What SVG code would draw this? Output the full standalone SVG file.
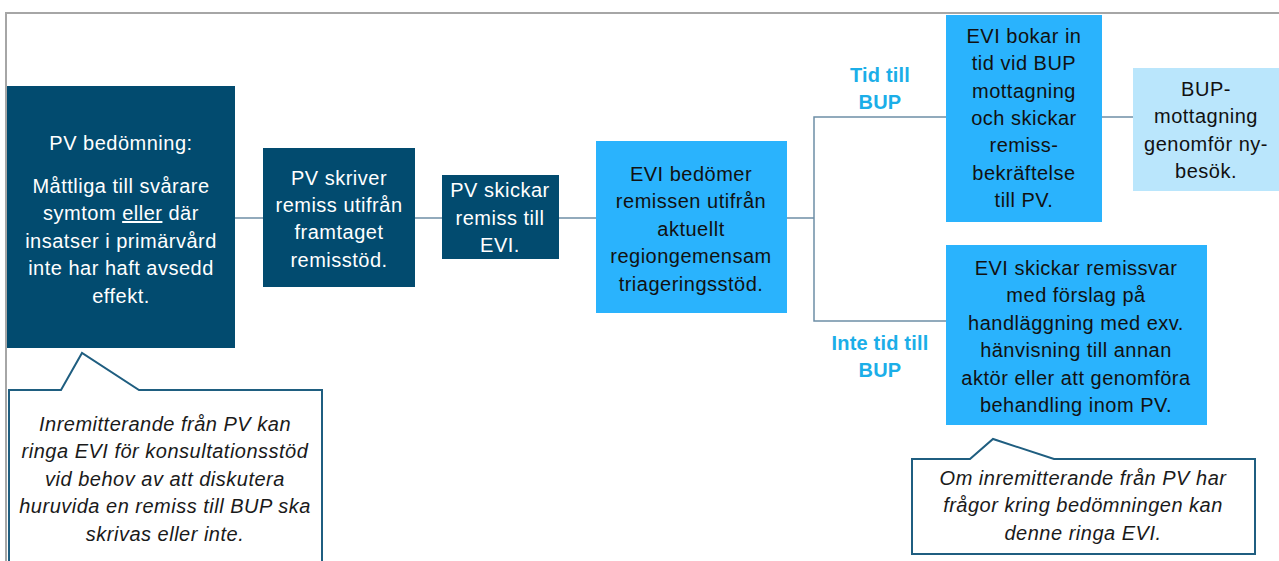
<svg xmlns="http://www.w3.org/2000/svg" width="1279" height="561" viewBox="0 0 1279 561">
<style>
.t{font-family:"Liberation Sans",Arial,sans-serif;font-size:20px;letter-spacing:0.5px;text-anchor:middle}
.w{fill:#ffffff}
.k{fill:#111111}
.i{font-style:italic;fill:#1a1a1a}
.lbl{fill:#1BAEE8;font-weight:bold;letter-spacing:0.2px}
.dark{fill:#024B6F}
.lb{fill:#2AB3FD}
.pale{fill:#BAE6FC}
.con{stroke:#6E8EA6;stroke-width:1.5;fill:none}
.call{fill:#ffffff;stroke:#1F5E80;stroke-width:2}
</style>
<rect width="1279" height="561" fill="#ffffff"/>
<path d="M6,561 V13 H1279" fill="none" stroke="#A6A6A6" stroke-width="2"/>
<g id="connectors">
<line class="con" x1="235" y1="218" x2="263" y2="218"/>
<line class="con" x1="415" y1="218" x2="442" y2="218"/>
<line class="con" x1="559" y1="218" x2="596" y2="218"/>
<line class="con" x1="787" y1="218" x2="814" y2="218"/>
<path class="con" d="M946,117 H814 V321 H946"/>
<line class="con" x1="1102" y1="117" x2="1133" y2="117"/>
</g>
<g id="label-tid">
<text class="t lbl" x="880" y="82">Tid till</text>
<text class="t lbl" x="880" y="109">BUP</text>
</g>
<g id="label-inte">
<text class="t lbl" x="880" y="350">Inte tid till</text>
<text class="t lbl" x="880" y="377">BUP</text>
</g>
<g id="n1">
<rect class="dark" x="7" y="86" width="228" height="262"/>
<text class="t w" x="121" y="150">PV bedömning:</text>
<text class="t w" x="121" y="193">Måttliga till svårare</text>
<text class="t w" x="121" y="220">symtom <tspan text-decoration="underline">eller</tspan> där</text>
<text class="t w" x="121" y="248">insatser i primärvård</text>
<text class="t w" x="121" y="275">inte har haft avsedd</text>
<text class="t w" x="121" y="303">effekt.</text>
</g>
<g id="n2">
<rect class="dark" x="263" y="148" width="152" height="139"/>
<text class="t w" x="339" y="185">PV skriver</text>
<text class="t w" x="339" y="212">remiss utifrån</text>
<text class="t w" x="339" y="239">framtaget</text>
<text class="t w" x="339" y="267">remisstöd.</text>
</g>
<g id="n3">
<rect class="dark" x="442" y="175" width="117" height="84"/>
<text class="t w" x="500" y="197">PV skickar</text>
<text class="t w" x="500" y="225">remiss till</text>
<text class="t w" x="500" y="252">EVI.</text>
</g>
<g id="n4">
<rect class="lb" x="596" y="141" width="191" height="172"/>
<text class="t k" x="691" y="181">EVI bedömer</text>
<text class="t k" x="691" y="208">remissen utifrån</text>
<text class="t k" x="691" y="236">aktuellt</text>
<text class="t k" x="691" y="263">regiongemensam</text>
<text class="t k" x="691" y="291">triageringsstöd.</text>
</g>
<g id="n5">
<rect class="lb" x="946" y="15" width="156" height="207"/>
<text class="t k" x="1024" y="43">EVI bokar in</text>
<text class="t k" x="1024" y="70">tid vid BUP</text>
<text class="t k" x="1024" y="98">mottagning</text>
<text class="t k" x="1024" y="125">och skickar</text>
<text class="t k" x="1024" y="152">remiss-</text>
<text class="t k" x="1024" y="180">bekräftelse</text>
<text class="t k" x="1024" y="207">till PV.</text>
</g>
<g id="n6">
<rect class="pale" x="1133" y="68" width="146" height="123"/>
<text class="t k" x="1206" y="96">BUP-</text>
<text class="t k" x="1206" y="123">mottagning</text>
<text class="t k" x="1206" y="151">genomför ny-</text>
<text class="t k" x="1206" y="178">besök.</text>
</g>
<g id="n7">
<rect class="lb" x="946" y="245" width="261" height="180"/>
<text class="t k" x="1076" y="275">EVI skickar remissvar</text>
<text class="t k" x="1076" y="302">med förslag på</text>
<text class="t k" x="1076" y="330">handläggning med exv.</text>
<text class="t k" x="1076" y="357">hänvisning till annan</text>
<text class="t k" x="1076" y="385">aktör eller att genomföra</text>
<text class="t k" x="1076" y="412">behandling inom PV.</text>
</g>
<g id="callout1">
<path class="call" d="M9,565 V390 H61 L82,353 L139,390 H322 V565"/>
<text class="t i" x="165" y="431">Inremitterande från PV kan</text>
<text class="t i" x="165" y="458">ringa EVI för konsultationsstöd</text>
<text class="t i" x="165" y="486">vid behov av att diskutera</text>
<text class="t i" x="165" y="513">huruvida en remiss till BUP ska</text>
<text class="t i" x="165" y="541">skrivas eller inte.</text>
</g>
<g id="callout2">
<path class="call" d="M912,459 H970 L993,439 L1054,459 H1255 V554 H912 Z"/>
<text class="t i" x="1083" y="485">Om inremitterande från PV har</text>
<text class="t i" x="1083" y="512">frågor kring bedömningen kan</text>
<text class="t i" x="1083" y="540">denne ringa EVI.</text>
</g>
</svg>
